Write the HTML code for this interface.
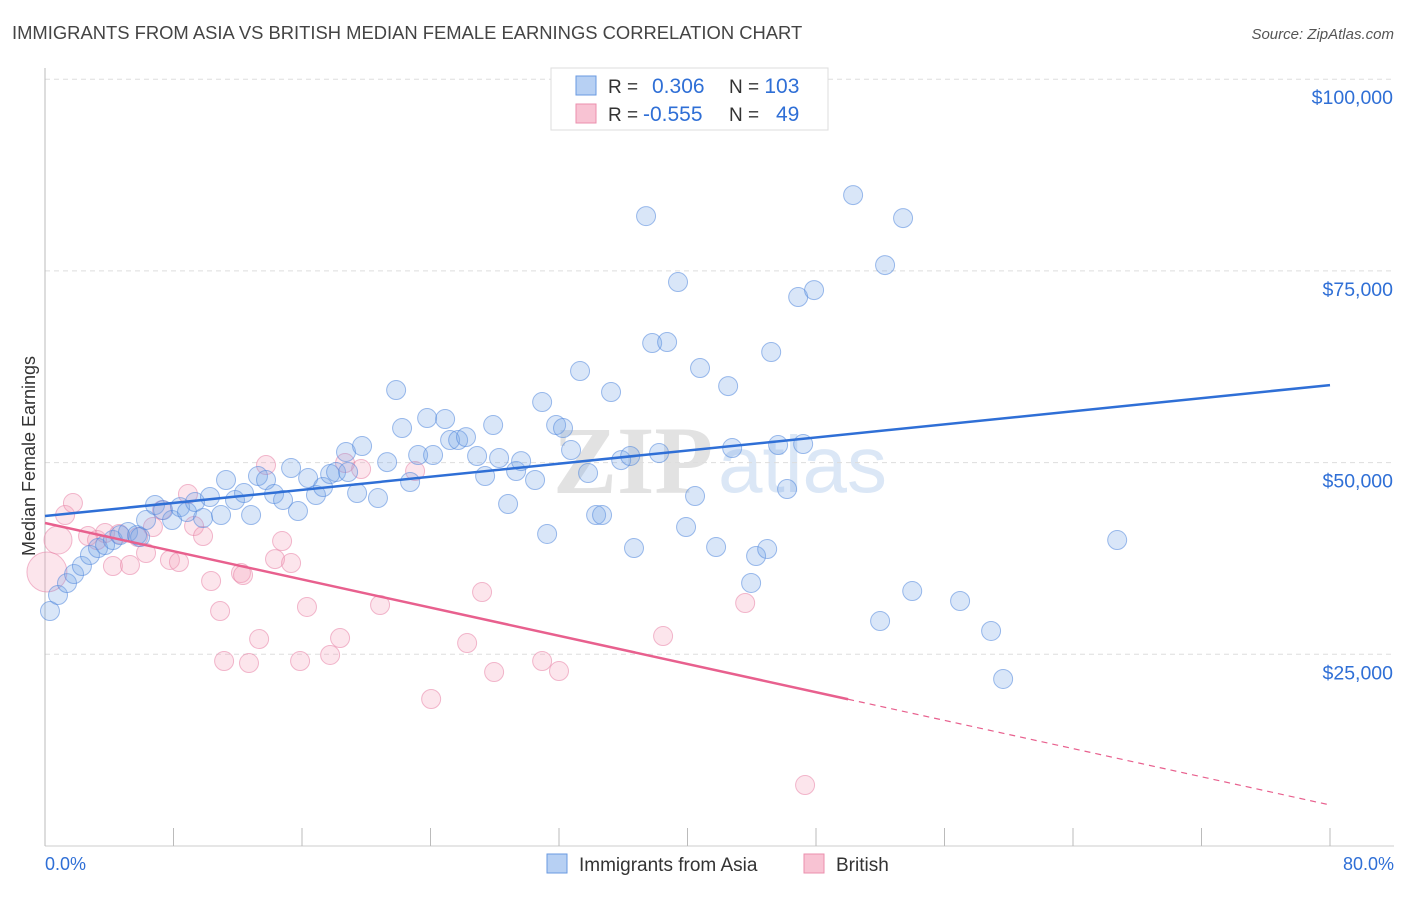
<!DOCTYPE html>
<html><head><meta charset="utf-8"><style>
body{margin:0;background:#fff;font-family:"Liberation Sans",sans-serif}
</style></head><body>
<svg id="c" width="1406" height="892" xmlns="http://www.w3.org/2000/svg" style="font-family:'Liberation Sans',sans-serif">
<text x="12" y="39" font-size="18.4" fill="#444">IMMIGRANTS FROM ASIA VS BRITISH MEDIAN FEMALE EARNINGS CORRELATION CHART</text>
<text x="1394" y="39" font-size="15" fill="#555" text-anchor="end" font-style="italic">Source: ZipAtlas.com</text>
<text x="553" y="493" font-size="96" fill="#e2e2e2" font-family="Liberation Serif" font-weight="bold">ZIP</text>
<text x="718" y="492" font-size="80" fill="#dbe7f6">atlas</text>
<g id="grid"></g><g id="pts"></g><g id="lines"></g>
<text transform="translate(35,456) rotate(-90)" font-size="18" fill="#333" text-anchor="middle">Median Female Earnings</text>
<g>
<rect x="551" y="68" width="277" height="62" fill="#fff" stroke="#ddd"/>
<rect x="576" y="76" width="20" height="19" fill="#b7d0f3" stroke="#6a9ae0"/>
<rect x="576" y="104" width="20" height="19" fill="#f8c3d3" stroke="#eb8fae"/>
<text x="608" y="93" font-size="19" fill="#333">R = <tspan fill="#2f6fd6" x="652" font-size="21">0.306</tspan><tspan x="729" fill="#333">N = </tspan><tspan fill="#2f6fd6" font-size="21">103</tspan></text>
<text x="608" y="121" font-size="19" fill="#333">R = <tspan fill="#2f6fd6" x="643" font-size="21">-0.555</tspan><tspan x="729" fill="#333">N = </tspan><tspan fill="#2f6fd6" x="776" font-size="21">49</tspan></text>
</g>
<g>
<rect x="547" y="854" width="20" height="19" fill="#b7d0f3" stroke="#6a9ae0"/>
<text x="579" y="871" font-size="19" fill="#333">Immigrants from Asia</text>
<rect x="804" y="854" width="20" height="19" fill="#f8c3d3" stroke="#eb8fae"/>
<text x="836" y="871" font-size="19" fill="#333">British</text>
</g>
<text x="45" y="870" font-size="18" fill="#2f6fd6">0.0%</text>
<text x="1394" y="870" font-size="18" fill="#2f6fd6" text-anchor="end">80.0%</text>
</svg>
<script>
const yTicks=[25000,50000,75000,100000];
const yTickLabels=["$25,000","$50,000","$75,000","$100,000"];
const xTicks=[0,8,16,24,32,40,48,56,64,72,80];
const asiaX=[0.31,0.81,1.37,1.81,2.30,2.80,3.30,3.74,4.23,4.67,5.17,5.73,5.92,6.29,6.85,7.35,7.91,8.41,8.84,9.34,9.84,10.27,10.96,11.27,11.83,12.39,12.83,13.26,13.76,14.26,14.82,15.32,15.75,16.38,16.87,17.31,17.75,18.12,18.74,18.87,19.43,19.74,20.73,21.30,21.86,22.23,22.73,23.23,23.79,24.16,24.91,25.22,25.72,26.21,26.90,27.40,27.90,28.27,28.83,29.33,29.64,30.51,30.95,31.26,31.82,32.25,32.75,33.31,33.81,34.31,34.68,35.24,35.87,36.43,36.67,37.42,37.80,38.23,38.73,39.41,39.91,40.47,40.78,41.78,42.53,42.78,43.96,44.27,44.96,45.21,45.64,46.20,46.89,47.20,47.88,50.31,51.99,52.30,53.42,53.99,56.97,58.90,59.65,66.75];
const asiaY=[30640,32730,34290,35470,36510,37950,38860,39250,39900,40550,40950,40550,40290,42510,44470,43810,42510,44200,43550,44860,42770,45510,43160,47730,45120,46030,43160,48250,47730,45900,45120,49290,43680,47990,45770,46810,48510,48770,51380,48770,46030,52160,45380,50070,59460,54510,47470,50990,55810,50990,55680,52940,52940,53330,50860,48250,54900,50600,44600,48900,50200,47730,57900,40690,54900,54510,51640,61940,48640,43160,43160,59200,50330,50860,38860,82150,65590,51250,65720,73550,41600,45640,62330,38990,59980,51900,34300,37820,38730,64420,52290,46550,71590,52420,72500,84890,29340,75760,81890,33250,31950,28040,21780,39900];
const britX=[0.81,0.12,1.25,1.74,2.68,3.24,3.74,4.23,4.61,5.29,5.79,6.29,6.72,7.29,7.78,8.34,8.90,9.28,9.84,10.34,10.90,11.15,12.20,12.33,12.70,13.33,13.76,14.32,14.76,15.32,15.88,16.31,17.75,18.37,18.68,19.68,20.86,23.04,24.04,26.28,27.21,27.96,30.95,32.00,38.48,43.59,47.32];
const britY=[39900,35730,43160,44730,40420,39900,40820,36510,40690,36640,40290,38210,41600,43810,37300,37030,45900,41730,40420,34560,30640,24120,35600,35340,23860,26990,49680,37420,39770,36900,24120,31170,24910,27120,49940,49160,31430,48900,19170,26470,33120,22690,24120,22820,27380,31690,7950];
const britSize=[2,3,1,1,1,1,1,1,1,1,1,1,1,1,1,1,1,1,1,1,1,1,1,1,1,1,1,1,1,1,1,1,1,1,1,1,1,1,1,1,1,1,1,1,1,1,1];
const trendAsia=[43030,60110];
const trendBrit=[42120,5350];
const britSolidEnd=50;
const NS='http://www.w3.org/2000/svg';
const sx=v=>45+v/80*1285, sy=v=>846-v/25000*191.7;
function mk(t,a,p){const e=document.createElementNS(NS,t);for(const k in a)e.setAttribute(k,a[k]);p.appendChild(e);return e;}
const G=document.getElementById('grid');
yTicks.forEach((t,i)=>{
const l=mk('line',{x1:45,x2:1394,y1:sy(t),y2:sy(t),stroke:'#ddd','stroke-dasharray':'5,4'},G);


const tx=mk('text',{x:1393,y:sy(t)+25,'font-size':19.5,fill:'#2f6fd6','text-anchor':'end'},G);
tx.textContent=yTickLabels[i];


});
mk('line',{x1:45,x2:45,y1:68,y2:846,stroke:'#bbb'},G);
mk('line',{x1:45,x2:1394,y1:846,y2:846,stroke:'#ccc'},G);
xTicks.forEach(t=>{
const l=mk('line',{x1:sx(t),x2:sx(t),y1:828,y2:846,stroke:'#bbb'},G);


});
const P=document.getElementById('pts');
britX.forEach((x,i)=>{
const c=mk('circle',{cx:sx(x),cy:sy(britY[i]),r:britSize[i]===1?9.5:(britSize[i]===2?14:20),fill:'rgba(243,160,188,0.28)',stroke:'rgba(232,130,165,0.55)'},P);


});
asiaX.forEach((x,i)=>{
const c=mk('circle',{cx:sx(x),cy:sy(asiaY[i]),r:9.5,fill:'rgba(120,165,230,0.28)',stroke:'rgba(80,135,220,0.55)'},P);


});
const L=document.getElementById('lines');
const la=mk('line',{x1:sx(0),y1:sy(trendAsia[0]),x2:sx(80),y2:sy(trendAsia[1]),stroke:'#2f6fd6','stroke-width':2.5},L);


const bm=trendBrit[0]+(trendBrit[1]-trendBrit[0])*britSolidEnd/80;
const lb=mk('line',{x1:sx(0),y1:sy(trendBrit[0]),x2:sx(britSolidEnd),y2:sy(bm),stroke:'#e8608e','stroke-width':2.5},L);


const ld=mk('line',{x1:sx(britSolidEnd),y1:sy(bm),x2:sx(80),y2:sy(trendBrit[1]),stroke:'#e8608e','stroke-width':1.2,'stroke-dasharray':'6,5'},L);


</script>
</body></html>
